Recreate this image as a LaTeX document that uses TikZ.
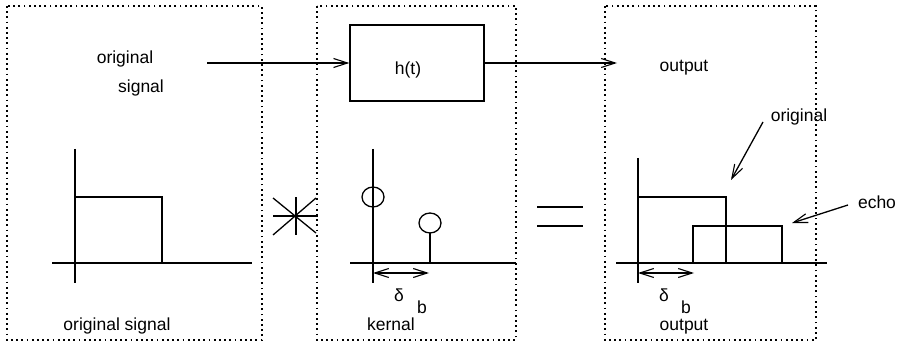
\documentclass[tikz,border=0pt]{standalone}
\usepackage{fontspec}
\setmainfont{Liberation Sans}
\usetikzlibrary{arrows.meta}
\tikzset{
  panel/.style={draw, line width=1.2pt, dash pattern=on 1.8pt off 3.4pt},
  ln/.style={draw, line width=1.3pt},
  arr/.style={ln, -{Straight Barb[length=14pt,width=9pt,line width=1.1pt]}},
  darr/.style={ln, {Straight Barb[length=14pt,width=9pt,line width=1.1pt]}-{Straight Barb[length=14pt,width=9pt,line width=1.1pt]}},
  lbl/.style={inner sep=0pt, font=\fontsize{17.5}{20}\selectfont},
  blbl/.style={inner sep=0pt, anchor=base, font=\fontsize{17.5}{20}\selectfont},
  filt/.style={draw, line width=1.3pt, minimum width=134pt, minimum height=76pt, inner sep=0pt, font=\fontsize{17.5}{20}\selectfont},
}
\begin{document}
\begin{tikzpicture}[x=1pt,y=-1pt]
\useasboundingbox (0,0) rectangle (900,342);
% panels
\draw[panel] (7,6) rectangle (262,340);
\draw[panel] (317,6) rectangle (516,340);
\draw[panel] (605,6) rectangle (816,340);
% top row
\node[lbl] (orig) at (125,59) {original};
\node[lbl] (sig) at (141,88) {signal};
\node[filt] (h) at (417,63) {};
\node[lbl] (ht) at (408,70) {h(t)};
\node[lbl] (out) at (684,68) {output};
\coordinate (in) at (207,63);
\coordinate (oe) at (617,63);
\draw[arr] (in) -- (h.west);
\draw[arr] (h.east) -- (oe);
% panel 1 plot
\draw[ln] (75,149) -- (75,283);
\draw[ln] (52,263) -- (252,263);
\draw[ln] (75,197) -- (162,197) -- (162,263);
\node[blbl] (os) at (117,330) {original signal};
% asterisk
\draw[ln] (296,197) -- (296,235);
\draw[ln] (273,216) -- (318,216);
\draw[ln] (273,198) -- (316,233);
\draw[ln] (273,235) -- (316,198);
% panel 2 plot
\draw[ln] (373,149) -- (373,283);
\draw[ln] (350,263) -- (516,263);
\draw[ln] (373,197) ellipse (11pt and 10pt);
\draw[ln] (430,223) ellipse (11pt and 10pt);
\draw[ln] (430,233) -- (430,263);
\coordinate (k1) at (373,273);
\coordinate (k2) at (429,273);
\draw[darr] (k1) -- (k2);
\node[blbl] (d1) at (399,301) {δ};
\node[blbl] (b1) at (422,313) {b};
\node[blbl] (kern) at (391,330) {kernal};
% equals
\draw[ln] (537,207) -- (583,207);
\draw[ln] (537,226) -- (583,226);
% panel 3 plot
\draw[ln] (638,158) -- (638,283);
\draw[ln] (616,263) -- (827,263);
\draw[ln] (638,197) -- (726,197) -- (726,263);
\draw[ln] (693,263) -- (693,226) -- (782,226) -- (782,263);
\coordinate (o1) at (638,273);
\coordinate (o2) at (694,273);
\draw[darr] (o1) -- (o2);
\node[blbl] (d2) at (664,301) {δ};
\node[blbl] (b2) at (686,313) {b};
\node[blbl] (out2) at (684,330) {output};
\node[lbl] (olbl) at (799,117) {original};
\node[lbl] (echo) at (877,202) {echo};
\coordinate (ot) at (731,180);
\coordinate (et) at (792,223);
\draw[arr] (763,122) -- (ot);
\draw[arr] (848,205) -- (et);
\end{tikzpicture}
\end{document}
